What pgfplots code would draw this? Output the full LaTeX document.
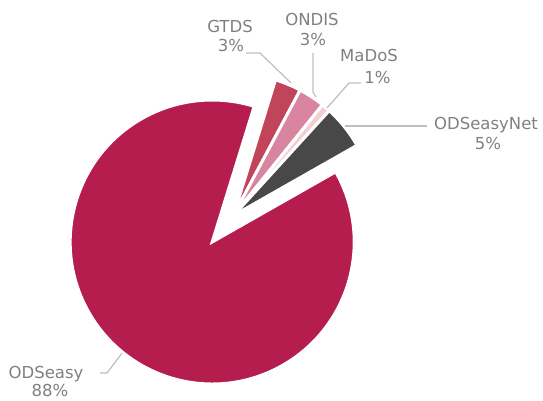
\documentclass[border=0pt]{standalone}
\usepackage{fontspec}
\setmainfont{DejaVu Sans}
\usepackage{pgfplots}
\usepackage{pgfplotstable}
\pgfplotsset{compat=1.18}

\definecolor{slice0}{RGB}{192,68,90}
\definecolor{slice1}{RGB}{217,132,160}
\definecolor{slice2}{RGB}{242,208,208}
\definecolor{slice3}{RGB}{72,72,72}
\definecolor{slice4}{RGB}{181,29,79}
\definecolor{labelgray}{RGB}{128,128,128}
\definecolor{linegray}{RGB}{190,190,190}

% share in percent, offset of the pulled-out slice in bp
\pgfplotstableread{
label      value sliced
GTDS       3     0
ONDIS      3     0
MaDoS      1     0
ODSeasyNet 5     0
ODSeasy    88    34
}\piedata
\pgfplotstablecreatecol[create col/expr accum={\pgfmathaccuma+\thisrow{value}}{0}]{cum}\piedata

\begin{document}
\begin{tikzpicture}[font=\fontsize{16.5bp}{20bp}\selectfont]
\begin{axis}[
    width=543bp, height=401bp, scale only axis,
    xmin=0, xmax=543, ymin=0, ymax=401,
    hide axis, clip=false,
]
\coordinate (bl) at (axis cs:0,0);
\coordinate (tr) at (axis cs:543,401);

% slices, clockwise from 72.8 deg
\pgfplotsinvokeforeach{0,...,4}{
  \pgfplotstablegetelem{#1}{value}\of\piedata \let\slV\pgfplotsretval
  \pgfplotstablegetelem{#1}{cum}\of\piedata \let\slC\pgfplotsretval
  \pgfplotstablegetelem{#1}{sliced}\of\piedata \let\slO\pgfplotsretval
  \pgfmathsetmacro\slB{72.8-3.6*\slC}
  \pgfmathsetmacro\slA{\slB+3.6*\slV}
  \pgfmathsetmacro\slM{(\slA+\slB)/2}
  \edef\temp{\noexpand\fill[fill=slice#1, draw=white, line width=3bp]
    (axis cs:233.5,185.5) ++(\slM:\slO bp) -- ++(\slA:142bp)
    arc[start angle=\slA, end angle=\slB, radius=142bp] -- cycle;}
  \temp
}

% connectors
\draw[linegray, line width=1.2bp] (axis cs:246,348) -- (axis cs:260,348) -- (axis cs:291,318);
\draw[linegray, line width=1.2bp] (axis cs:313,348) -- (axis cs:313,309) -- (axis cs:316,304);
\draw[linegray, line width=1.2bp] (axis cs:361,318) -- (axis cs:349,318) -- (axis cs:327,293);
\draw[linegray, line width=1.2bp] (axis cs:345,275) -- (axis cs:427,275);
\draw[linegray, line width=1.2bp] (axis cs:100,28) -- (axis cs:107,28) -- (axis cs:122,48);

% labels
\begin{scope}[every node/.style={text=labelgray, anchor=base, inner sep=0pt}]
\node at (axis cs:230,368.7) {GTDS};
\node at (axis cs:231,349.3) {3\%};
\node at (axis cs:312,375) {ONDIS};
\node at (axis cs:313,355.3) {3\%};
\node at (axis cs:369,339) {MaDoS};
\node at (axis cs:377.5,317) {1\%};
\node at (axis cs:486,271.7) {ODSeasyNet};
\node at (axis cs:488,251.7) {5\%};
\node at (axis cs:46,22.5) {ODSeasy};
\node at (axis cs:50,4.5) {88\%};
\end{scope}
\end{axis}
\pgfresetboundingbox
\useasboundingbox (bl) rectangle (tr);
\end{tikzpicture}
\end{document}
